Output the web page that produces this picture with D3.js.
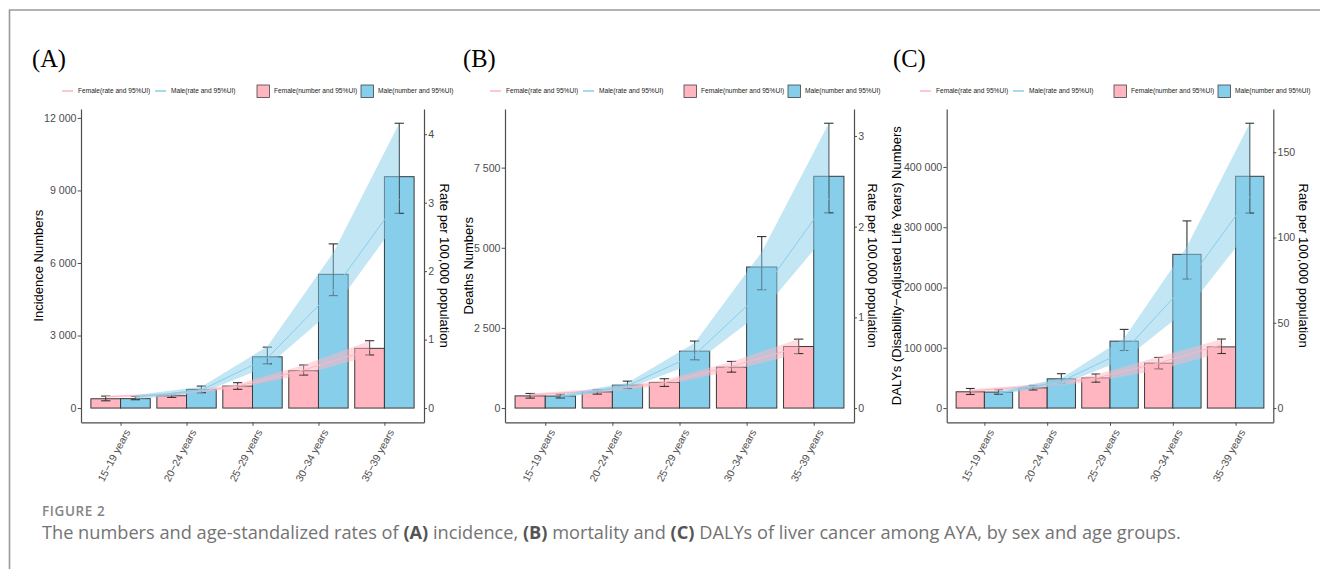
<!DOCTYPE html>
<html>
<head>
<meta charset="utf-8">
<script src="https://cdn.jsdelivr.net/npm/d3@7"></script>
<style>
  body { margin: 0; background: #fff; }
  svg { display: block; font-family: "Liberation Sans", Arial, sans-serif; }
</style>
</head>
<body>
<div id="area"></div>
<script>
var ageGroups = ["15\u221219 years", "20\u221224 years", "25\u221229 years", "30\u221234 years", "35\u221239 years"];

// (A) incidence numbers and 95% UI
var incFemale = [385, 510, 910, 1545, 2470];
var incFemaleLow = [300, 440, 775, 1365, 2195];
var incFemaleUp = [495, 580, 1050, 1780, 2785];
var incMale = [390, 770, 2120, 5530, 9570];
var incMaleLow = [345, 635, 1830, 4650, 8055];
var incMaleUp = [480, 910, 2520, 6790, 11780];
// (A) incidence rate per 100,000
var incRateFemale = [0.166, 0.20, 0.32, 0.557, 0.85];
var incRateFemaleLow = [0.15, 0.18, 0.29, 0.49, 0.76];
var incRateFemaleUp = [0.18, 0.22, 0.35, 0.63, 0.98];
var incRateMale = [0.157, 0.264, 0.73, 1.72, 3.05];
var incRateMaleLow = [0.13, 0.22, 0.61, 1.44, 2.76];
var incRateMaleUp = [0.19, 0.31, 0.90, 2.27, 4.16];

// (B) deaths
var deathFemale = [380, 505, 800, 1275, 1920];
var deathFemaleLow = [310, 435, 675, 1120, 1700];
var deathFemaleUp = [455, 570, 915, 1455, 2150];
var deathMale = [375, 715, 1775, 4400, 7230];
var deathMaleLow = [315, 610, 1505, 3690, 6090];
var deathMaleUp = [435, 840, 2090, 5350, 8885];
var deathRateFemale = [0.146, 0.19, 0.28, 0.46, 0.67];
var deathRateFemaleLow = [0.13, 0.17, 0.25, 0.41, 0.60];
var deathRateFemaleUp = [0.16, 0.21, 0.31, 0.51, 0.76];
var deathRateMale = [0.128, 0.245, 0.587, 1.28, 2.31];
var deathRateMaleLow = [0.11, 0.215, 0.495, 1.06, 1.94];
var deathRateMaleUp = [0.15, 0.28, 0.716, 1.72, 3.14];

// (C) DALYs
var dalyFemale = [27000, 33500, 50000, 74500, 101500];
var dalyFemaleLow = [22500, 30000, 43000, 65000, 90500];
var dalyFemaleUp = [32500, 37500, 56500, 84000, 114500];
var dalyMale = [26500, 48500, 111000, 255000, 384500];
var dalyMaleLow = [23000, 42000, 95500, 214000, 323500];
var dalyMaleUp = [30500, 57000, 130500, 310500, 472500];
var dalyRateFemale = [10.1, 12.7, 17.6, 26.4, 37.1];
var dalyRateFemaleLow = [9.2, 11.6, 15.7, 22.1, 32.6];
var dalyRateFemaleUp = [11, 13.8, 19.5, 30.1, 40.4];
var dalyRateMale = [8.8, 15.6, 33.2, 73.3, 124];
var dalyRateMaleLow = [7.8, 13.8, 28.3, 57.6, 104.5];
var dalyRateMaleUp = [10, 17.5, 41, 94.7, 167];

// tick values
var incTicks = [0, 3000, 6000, 9000, 12000];
var incRateTicks = [0, 1, 2, 3, 4];
var deathTicks = [0, 2500, 5000, 7500];
var deathRateTicks = [0, 1, 2, 3];
var dalyTicks = [0, 100000, 200000, 300000, 400000];
var dalyRateTicks = [0, 50, 100, 150];

var legendLabels = ["Female(rate and 95%UI)", "Male(rate and 95%UI)", "Female(number and 95%UI)", "Male(number and 95%UI)"];

var FEMALE = "#FFB6C1", MALE = "#87CEEB", INK = "#4d4d4d";
var plotTop = 109, plotBottom = 422.3;

var panels = [
  { tag: "(A)", tagX: 32, x0: 81, x1: 424, yTitle: "Incidence Numbers", yTitleX: 38.5, rTitleX: 444.5,
    legendX: [62, 155, 257, 361],
    f: incFemale, fLo: incFemaleLow, fUp: incFemaleUp, m: incMale, mLo: incMaleLow, mUp: incMaleUp,
    rf: incRateFemale, rfLo: incRateFemaleLow, rfUp: incRateFemaleUp,
    rm: incRateMale, rmLo: incRateMaleLow, rmUp: incRateMaleUp,
    ticks: incTicks, rTicks: incRateTicks },
  { tag: "(B)", tagX: 463, x0: 505, x1: 854, yTitle: "Deaths Numbers", yTitleX: 468, rTitleX: 873,
    legendX: [490, 583, 684, 788],
    f: deathFemale, fLo: deathFemaleLow, fUp: deathFemaleUp, m: deathMale, mLo: deathMaleLow, mUp: deathMaleUp,
    rf: deathRateFemale, rfLo: deathRateFemaleLow, rfUp: deathRateFemaleUp,
    rm: deathRateMale, rmLo: deathRateMaleLow, rmUp: deathRateMaleUp,
    ticks: deathTicks, rTicks: deathRateTicks },
  { tag: "(C)", tagX: 893, x0: 946.7, x1: 1273.3, yTitle: "DALYs (Disability\u2212Adjusted Life Years) Numbers", yTitleX: 896, rTitleX: 1304,
    legendX: [920, 1013, 1114, 1218],
    f: dalyFemale, fLo: dalyFemaleLow, fUp: dalyFemaleUp, m: dalyMale, mLo: dalyMaleLow, mUp: dalyMaleUp,
    rf: dalyRateFemale, rfLo: dalyRateFemaleLow, rfUp: dalyRateFemaleUp,
    rm: dalyRateMale, rmLo: dalyRateMaleLow, rmUp: dalyRateMaleUp,
    ticks: dalyTicks, rTicks: dalyRateTicks }
];

var fmt = function (d) { return d3.format(",")(d).replace(/,/g, " "); };

var svg = d3.select("#area").append("svg")
  .attr("width", 1320).attr("height", 569);

svg.append("rect").attr("width", 1320).attr("height", 569).attr("fill", "#fff");

// frame
svg.append("path")
  .attr("d", "M9.5,569 V10 H1320")
  .attr("fill", "none").attr("stroke", "#9a9a9a").attr("stroke-width", 1.6);

panels.forEach(function (p) {
  var g = svg.append("g");

  var x = d3.scaleLinear().domain([0.4, 5.6]).range([p.x0, p.x1]);
  var top = d3.max(p.mUp.concat(p.fUp));
  var y = d3.scaleLinear().domain([-top * 0.05, top * 1.05]).range([plotBottom, plotTop]);
  var k = d3.max(p.mUp) / d3.max(p.rmUp);
  var yR = d3.scaleLinear().domain(y.domain().map(function (d) { return d / k; })).range(y.range());

  // panel tag
  g.append("text").attr("x", p.tagX).attr("y", 66.5)
    .style("font-family", "'Liberation Serif', 'Times New Roman', serif")
    .style("font-size", "24.5px").attr("fill", "#000").text(p.tag);

  // legend
  var lg = g.append("g").style("font-size", "6.6px").attr("fill", "#222");
  [FEMALE, MALE].forEach(function (c, i) {
    lg.append("line").attr("x1", p.legendX[i]).attr("x2", p.legendX[i] + 11)
      .attr("y1", 91).attr("y2", 91).attr("stroke", c).attr("stroke-width", 1.5);
    lg.append("text").attr("x", p.legendX[i] + 16).attr("y", 93.3).text(legendLabels[i]);
  });
  [FEMALE, MALE].forEach(function (c, i) {
    lg.append("rect").attr("x", p.legendX[i + 2]).attr("y", 85).attr("width", 12.5).attr("height", 12.5)
      .attr("fill", c).attr("stroke", "#444").attr("stroke-width", 0.8);
    lg.append("text").attr("x", p.legendX[i + 2] + 17).attr("y", 93.3).text(legendLabels[i + 2]);
  });

  // bars
  var bw = x(1.45) - x(1);
  var bars = [];
  ageGroups.forEach(function (a, i) {
    bars.push({ pos: i + 1 - 0.225, v: p.f[i], lo: p.fLo[i], hi: p.fUp[i], c: FEMALE });
    bars.push({ pos: i + 1 + 0.225, v: p.m[i], lo: p.mLo[i], hi: p.mUp[i], c: MALE });
  });
  g.selectAll("rect.bar").data(bars).enter().append("rect").attr("class", "bar")
    .attr("x", function (d) { return x(d.pos) - bw / 2; })
    .attr("width", bw)
    .attr("y", function (d) { return y(d.v); })
    .attr("height", function (d) { return y(0) - y(d.v); })
    .attr("fill", function (d) { return d.c; })
    .attr("stroke", "#3a3a3a").attr("stroke-width", 1);

  // error bars
  var cap = (x(0.14) - x(0)) / 2;
  var eb = g.selectAll("g.eb").data(bars).enter().append("g")
    .attr("stroke", "#333").attr("stroke-width", 1.1).attr("fill", "none");
  eb.append("line")
    .attr("x1", function (d) { return x(d.pos); }).attr("x2", function (d) { return x(d.pos); })
    .attr("y1", function (d) { return y(d.lo); }).attr("y2", function (d) { return y(d.hi); });
  eb.append("line")
    .attr("x1", function (d) { return x(d.pos) - cap; }).attr("x2", function (d) { return x(d.pos) + cap; })
    .attr("y1", function (d) { return y(d.lo); }).attr("y2", function (d) { return y(d.lo); });
  eb.append("line")
    .attr("x1", function (d) { return x(d.pos) - cap; }).attr("x2", function (d) { return x(d.pos) + cap; })
    .attr("y1", function (d) { return y(d.hi); }).attr("y2", function (d) { return y(d.hi); });

  // rate ribbons and lines on the secondary scale
  var series = [
    { off: -0.225, v: p.rf, lo: p.rfLo, hi: p.rfUp, c: FEMALE },
    { off: 0.225, v: p.rm, lo: p.rmLo, hi: p.rmUp, c: MALE }
  ];
  series.forEach(function (s) {
    var idx = d3.range(ageGroups.length);
    var area = d3.area()
      .x(function (i) { return x(i + 1 + s.off); })
      .y0(function (i) { return yR(s.lo[i]); })
      .y1(function (i) { return yR(s.hi[i]); });
    var line = d3.line()
      .x(function (i) { return x(i + 1 + s.off); })
      .y(function (i) { return yR(s.v[i]); });
    g.append("path").attr("d", area(idx)).attr("fill", s.c).attr("fill-opacity", 0.5);
    g.append("path").attr("d", line(idx)).attr("fill", "none").attr("stroke", s.c).attr("stroke-width", 1);
  });

  // axes
  var ax = g.append("g").attr("transform", "translate(" + p.x0 + ",0)")
    .call(d3.axisLeft(y).tickValues(p.ticks).tickFormat(fmt).tickSize(3.3).tickPadding(1.2).tickSizeOuter(0));
  var axR = g.append("g").attr("transform", "translate(" + p.x1 + ",0)")
    .call(d3.axisRight(yR).tickValues(p.rTicks).tickFormat(d3.format("d")).tickSize(3).tickPadding(1.2).tickSizeOuter(0));
  var axB = g.append("g").attr("transform", "translate(0," + plotBottom + ")")
    .call(d3.axisBottom(x).tickValues([1, 2, 3, 4, 5]).tickFormat(function (d) { return ageGroups[d - 1]; })
      .tickSize(3.5).tickSizeOuter(0));
  [ax, axR, axB].forEach(function (a) {
    a.select(".domain").attr("stroke", INK).attr("stroke-width", 1.2);
    a.selectAll(".tick line").attr("stroke", INK).attr("stroke-width", 1);
    a.selectAll(".tick text").attr("fill", INK)
      .style("font-family", "'Liberation Sans', Arial, sans-serif").style("font-size", "10.6px");
  });
  axB.selectAll(".tick text")
    .style("font-size", "10.4px")
    .attr("text-anchor", "end")
    .attr("x", 0).attr("y", 0).attr("dy", "0.72em")
    .attr("transform", "translate(3,6) rotate(-62)");

  // axis titles
  var midY = (plotTop + plotBottom) / 2;
  g.append("text").attr("transform", "translate(" + p.yTitleX + "," + midY + ") rotate(-90)")
    .attr("text-anchor", "middle").attr("dy", "0.35em")
    .style("font-size", "13px").attr("fill", "#000").text(p.yTitle);
  g.append("text").attr("transform", "translate(" + p.rTitleX + "," + midY + ") rotate(90)")
    .attr("text-anchor", "middle").attr("dy", "0.35em")
    .style("font-size", "13px").attr("fill", "#000").text("Rate per 100,000 population");
});

// caption
svg.append("text").attr("x", 42).attr("y", 516)
  .style("font-family", "'Open Sans', sans-serif").style("font-weight", 600)
  .style("font-size", "13.5px").style("letter-spacing", "0.6px").attr("fill", "#858585").text("FIGURE 2");

var caption = svg.append("text").attr("x", 42).attr("y", 539)
  .style("font-family", "'Open Sans', sans-serif").style("font-size", "18.2px").attr("fill", "#737373");
[["The numbers and age-standalized rates of ", 400], ["(A)", 700], [" incidence, ", 400], ["(B)", 700],
 [" mortality and ", 400], ["(C)", 700], [" DALYs of liver cancer among AYA, by sex and age groups.", 400]]
  .forEach(function (t) {
    caption.append("tspan").style("font-weight", t[1]).attr("fill", t[1] > 400 ? "#555" : null).text(t[0]);
  });
</script>
</body>
</html>
